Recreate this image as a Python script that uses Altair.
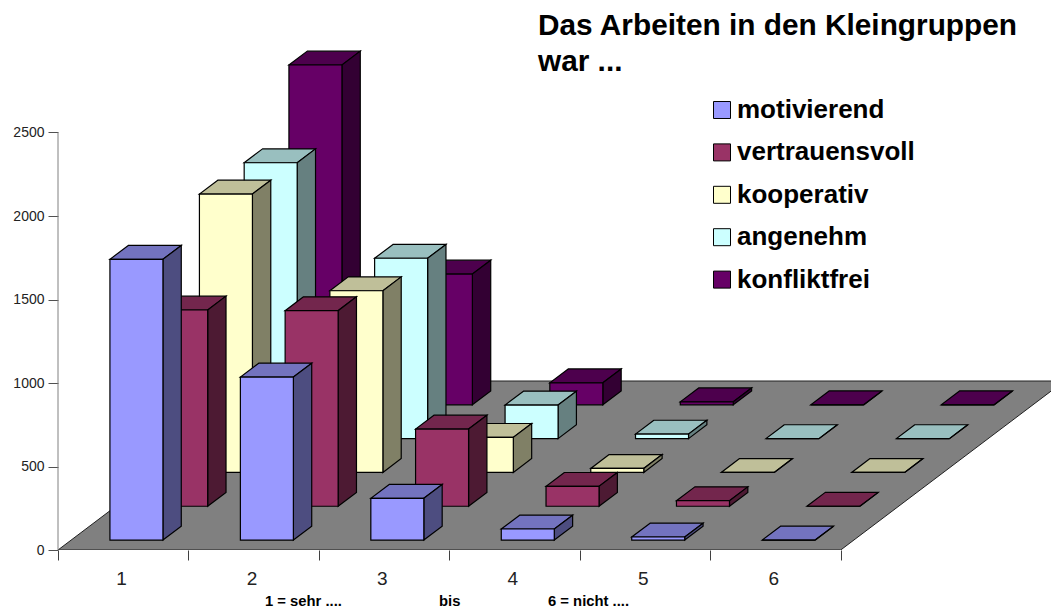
import altair as alt
import pandas as pd

FONT = "Liberation Sans"

series = ["motivierend", "vertrauensvoll", "kooperativ", "angenehm", "konfliktfrei"]
categories = ["1", "2", "3", "4", "5", "6"]

motivierend = [1681, 976, 250, 66, 18, 0]
vertrauensvoll = [1175, 1171, 462, 119, 33, 0]
kooperativ = [1667, 1088, 210, 24, 0, 0]
angenehm = [1652, 1080, 201, 27, 0, 0]
konfliktfrei = [2035, 783, 132, 18, 0, 0]
values = [motivierend, vertrauensvoll, kooperativ, angenehm, konfliktfrei]

front_colors = ["#9999FF", "#993366", "#FFFFCC", "#CCFFFF", "#660066"]
top_colors = ["#7373BF", "#73264D", "#BFBF99", "#99BFBF", "#4D004D"]
side_colors = ["#4D4D80", "#4D1A33", "#808066", "#668080", "#330033"]

y_ticks = [0, 500, 1000, 1500, 2000, 2500]
title_lines = ["Das Arbeiten in den Kleingruppen", "war ..."]
notes = ["1 = sehr ....", "bis", "6 = nicht ...."]

# Oblique projection of the 3D category/series/value space, in axis units.
PX_PER_CAT = 130.45
PX_PER_VAL = 83.5 / 500
W, H = 993, 542
DEPTH_X = 44.75 / PX_PER_CAT      # shift per series along x
DEPTH_Y = 33.8 / PX_PER_VAL       # shift per series along value
BAR_W = 53 / PX_PER_CAT
BAR_DEPTH = 0.41                  # bar depth as a fraction of a series step
BAR_D0 = 0.295                    # gap in front of a bar, same fraction
LINE = 1.2
x_scale = alt.Scale(domain=[0, W / PX_PER_CAT], nice=False, zero=False)
y_scale = alt.Scale(domain=[0, H / PX_PER_VAL], nice=False, zero=False)
color_scale = alt.Scale(domain=series, range=front_colors)

fronts, sides, tops = [], [], []
ddx, ddy = BAR_DEPTH * DEPTH_X, BAR_DEPTH * DEPTH_Y
for i, name in enumerate(series):
    for j, cat in enumerate(categories):
        d = i + BAR_D0
        xl = j + (1 - BAR_W) / 2 + d * DEPTH_X
        xr = xl + BAR_W
        base = d * DEPTH_Y
        top = base + values[i][j]
        fronts.append(dict(series=name, si=i, cat=cat, x=xl, x2=xr, y=base, y2=top))
        sides.append(dict(si=i, cat=cat, x=xr, y=base, y2=top))
        sides.append(dict(si=i, cat=cat, x=xr + ddx, y=base + ddy, y2=top + ddy))
        tops.append(dict(si=i, cat=cat, y=top, x=xl, x2=xr))
        tops.append(dict(si=i, cat=cat, y=top + ddy, x=xl + ddx, x2=xr + ddx))
fronts, sides, tops = pd.DataFrame(fronts), pd.DataFrame(sides), pd.DataFrame(tops)

n_cat, n_ser = len(categories), len(series)
floor = pd.DataFrame([
    dict(y=0, x=0, x2=n_cat),
    dict(y=n_ser * DEPTH_Y, x=n_ser * DEPTH_X, x2=n_cat + n_ser * DEPTH_X),
])

x_axis = alt.Axis(
    values=list(range(n_cat + 1)), domain=False, grid=False, title=None,
    tickColor="#404040", tickSize=10, labelFont=FONT, labelFontSize=19,
    labelColor="#222222", labelPadding=9.5, labelOffset=63, labelFlush=False,
    labelOverlap=False, labelExpr="datum.value < 6 ? datum.value + 1 : ''",
)
y_axis = alt.Axis(
    values=y_ticks, domain=False, grid=False, title=None, tickColor="#505050", tickSize=10,
    labelFont=FONT, labelFontSize=14, labelColor="#222222", labelPadding=4, format="d",
)

X = lambda: alt.X("x:Q", scale=x_scale, axis=x_axis)
Y = lambda: alt.Y("y:Q", scale=y_scale, axis=y_axis)

layers = [
    alt.Chart(floor).mark_area(orient="horizontal", color="#808080", stroke="#202020",
                               strokeWidth=1, clip=True).encode(
        x=X(), x2="x2:Q", y=Y(),
    ),
    alt.Chart(pd.DataFrame({"x": [0], "y": [0], "y2": [y_ticks[-1]]})).mark_rule(
        color="#808080", strokeWidth=1).encode(x=X(), y=Y(), y2="y2:Q"),
]

for i in reversed(range(n_ser)):
    layers.append(
        alt.Chart(tops[tops.si == i]).mark_area(
            orient="horizontal", color=top_colors[i], stroke="black", strokeWidth=LINE).encode(
            x=X(), x2="x2:Q", y=Y(), detail="cat:N")
    )
    layers.append(
        alt.Chart(sides[sides.si == i]).mark_area(
            orient="vertical", color=side_colors[i], stroke="black", strokeWidth=LINE).encode(
            x=X(), y=Y(), y2="y2:Q", detail="cat:N")
    )
    layers.append(
        alt.Chart(fronts[fronts.si == i]).mark_rect(stroke="black", strokeWidth=LINE).encode(
            x=X(), x2="x2:Q", y=Y(), y2="y2:Q",
            color=alt.Color(
                "series:N", scale=color_scale, sort=series,
                legend=alt.Legend(
                    orient="none", legendX=651, legendY=89, title=None,
                    symbolType="square", symbolSize=289, symbolStrokeColor="black",
                    symbolStrokeWidth=1, symbolOpacity=1, labelFont=FONT, labelFontSize=26,
                    labelFontWeight="bold", labelColor="black", labelOffset=2, rowPadding=16.4,
                    labelLimit=400,
                ),
            ),
        )
    )

title_df = pd.DataFrame({"t": title_lines, "x": [(538 - 58) / PX_PER_CAT] * 2})
for line, py in zip(title_lines, [27, 63]):
    layers.append(
        alt.Chart(title_df[title_df.t == line]).mark_text(
            align="left", baseline="alphabetic", font=FONT, fontSize=29.8,
            fontWeight="bold", color="black",
        ).encode(x=X(), y=alt.value(py), text="t:N")
    )
note_df = pd.DataFrame({"t": notes, "x": [(265 - 58) / PX_PER_CAT, (439 - 58) / PX_PER_CAT, (548 - 58) / PX_PER_CAT]})
layers.append(
    alt.Chart(note_df).mark_text(
        align="left", baseline="alphabetic", font=FONT, fontSize=14.8, fontWeight="bold", color="black",
    ).encode(x=X(), y=alt.value(598), text="t:N")
)

chart = alt.layer(*layers).properties(
    width=W, height=H, padding={"left": 50, "right": 0, "top": 0, "bottom": 60},
    autosize=alt.AutoSizeParams(type="none"),
).configure_view(stroke=None)

chart.save("out.html", embed_options={"renderer": "svg", "actions": False})
